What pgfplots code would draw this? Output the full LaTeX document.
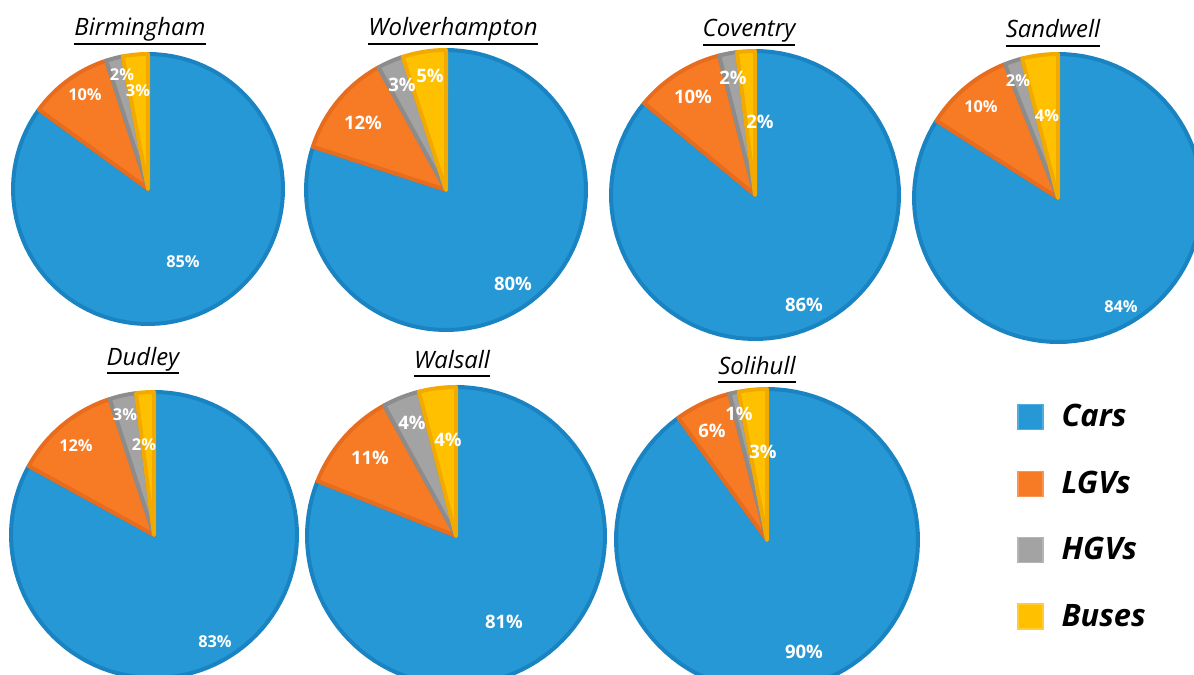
\documentclass[border=0pt]{standalone}
\usepackage{pgfplots}
\pgfplotsset{compat=1.18}
\usepackage{fontspec}
\setmainfont{Open Sans}
\definecolor{cars}{RGB}{38,152,213}
\definecolor{carsd}{RGB}{26,131,194}
\definecolor{lgv}{RGB}{247,122,36}
\definecolor{lgvd}{RGB}{232,108,30}
\definecolor{hgv}{RGB}{163,163,163}
\definecolor{hgvd}{RGB}{140,140,140}
\definecolor{bus}{RGB}{255,192,0}
\definecolor{busd}{RGB}{242,170,0}
\tikzset{
  lbl/.style={text=white, font=\fontsize{9.3}{10}\selectfont\bfseries, inner sep=0pt},
  lbls/.style={text=white, font=\fontsize{8.2}{9}\selectfont\bfseries, inner sep=0pt},
  ttl/.style={text=black, font=\fontsize{12}{14}\selectfont\itshape, inner sep=0pt},
}
\newcommand{\ttltext}[1]{\vtop{\hbox{\vphantom{Ay}#1}\kern0.6bp\hrule height 0.8bp}}

% one wedge: cx cy r angle1 angle2 fill draw
\newcommand{\wedgeplot}[7]{%
\addplot[forget plot, fill=#6, draw=#7, line width=2bp, line join=round,
  domain={#4}:{#5}, samples=90, variable=\t]
  ({#1+#3*cos(\t)},{#2-#3*sin(\t)}) -- (axis cs:#1,#2) -- cycle;
}
% one pie: cx cy r  cars lgvs hgvs buses (percent)
\newcommand{\pie}[7]{%
 \wedgeplot{#1}{#2}{#3}{90+3.6*(#5+#6+#7)}{90+3.6*(#4+#5+#6+#7)}{cars}{carsd}
 \wedgeplot{#1}{#2}{#3}{90+3.6*(#6+#7)}{90+3.6*(#5+#6+#7)}{lgv}{lgvd}
 \wedgeplot{#1}{#2}{#3}{90+3.6*(#7)}{90+3.6*(#6+#7)}{hgv}{hgvd}
 \wedgeplot{#1}{#2}{#3}{90}{90+3.6*(#7)}{bus}{busd}
}

\begin{document}
\begin{tikzpicture}
\begin{axis}[
  scale only axis, width=597bp, height=337.5bp,
  xmin=0, xmax=1194, ymin=0, ymax=675, y dir=reverse,
  hide axis,
  legend style={at={(axis cs:1011,396)}, anchor=north west, draw=none, fill=none,
    font=\fontsize{15.5}{18}\selectfont\bfseries\itshape,
    row sep=16.6bp, column sep=7bp},
  legend cell align=left,
  legend image code/.code={\draw[#1, line width=0.6bp] (0bp,-6.25bp) rectangle (12.5bp,6.25bp);},
]
\addlegendimage{fill=cars, draw=cars!80!white}
\addlegendentry{Cars}
\addlegendimage{fill=lgv, draw=lgv!80!white}
\addlegendentry{LGVs}
\addlegendimage{fill=hgv, draw=hgv!80!white}
\addlegendentry{HGVs}
\addlegendimage{fill=bus, draw=bus!80!white}
\addlegendentry{Buses}

% Birmingham
\pie{148}{189}{135}{85}{10}{2}{3}
% Wolverhampton
\pie{446}{190}{140}{80}{12}{3}{5}
% Coventry
\pie{755}{195}{144}{86}{10}{2}{2}
% Sandwell
\pie{1058}{198}{144}{84}{10}{2}{4}
% Dudley
\pie{154}{535}{143}{83}{12}{3}{2}
% Walsall
\pie{456}{536}{149}{81}{11}{4}{4}
% Solihull
\pie{767}{540}{151}{90}{6}{1}{3}

% labels
\node[lbls] at (axis cs:85,95) {10\%};
\node[lbls] at (axis cs:122,75) {2\%};
\node[lbls] at (axis cs:138,91) {3\%};
\node[lbls] at (axis cs:183,262) {85\%};

\node[lbl] at (axis cs:363,123) {12\%};
\node[lbl] at (axis cs:402,85) {3\%};
\node[lbl] at (axis cs:430,76) {5\%};
\node[lbl] at (axis cs:513,284) {80\%};

\node[lbl] at (axis cs:693,97) {10\%};
\node[lbl] at (axis cs:733,78) {2\%};
\node[lbl] at (axis cs:760,122) {2\%};
\node[lbl] at (axis cs:804,305) {86\%};

\node[lbls] at (axis cs:981,107) {10\%};
\node[lbls] at (axis cs:1018,81) {2\%};
\node[lbls] at (axis cs:1047,116) {4\%};
\node[lbls] at (axis cs:1121,307) {84\%};

\node[lbls] at (axis cs:76,446) {12\%};
\node[lbls] at (axis cs:125,415) {3\%};
\node[lbls] at (axis cs:144,445) {2\%};
\node[lbls] at (axis cs:215,642) {83\%};

\node[lbl] at (axis cs:370,458) {11\%};
\node[lbl] at (axis cs:412,423) {4\%};
\node[lbl] at (axis cs:448,440) {4\%};
\node[lbl] at (axis cs:504,622) {81\%};

\node[lbl] at (axis cs:712,431) {6\%};
\node[lbl] at (axis cs:739,414) {1\%};
\node[lbl] at (axis cs:763,452) {3\%};
\node[lbl] at (axis cs:804,652) {90\%};

% titles (anchor at baseline of the title text)
\node[ttl, anchor=base] at (axis cs:140,36) {\ttltext{Birmingham}};
\node[ttl, anchor=base] at (axis cs:453,36) {\ttltext{Wolverhampton}};
\node[ttl, anchor=base] at (axis cs:749,37) {\ttltext{Coventry}};
\node[ttl, anchor=base] at (axis cs:1053,38) {\ttltext{Sandwell}};
\node[ttl, anchor=base] at (axis cs:143,365) {\ttltext{Dudley}};
\node[ttl, anchor=base] at (axis cs:452,368) {\ttltext{Walsall}};
\node[ttl, anchor=base] at (axis cs:757,374) {\ttltext{Solihull}};
\end{axis}
\pgfresetboundingbox
\path (current axis.south west) rectangle (current axis.north east);
\end{tikzpicture}
\end{document}
